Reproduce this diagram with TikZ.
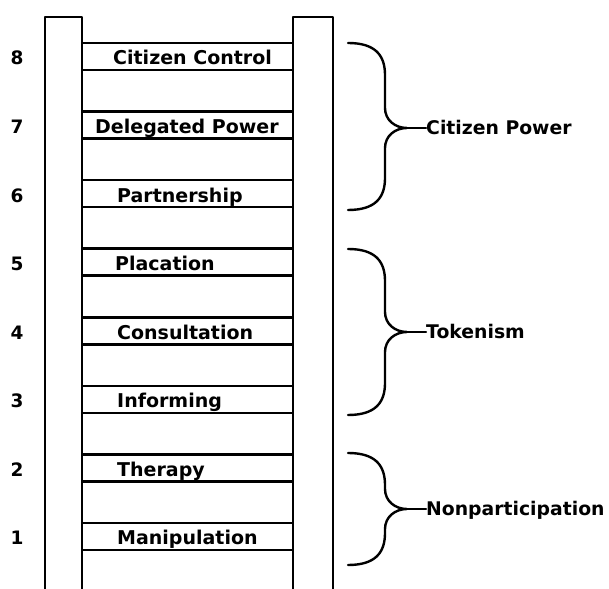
\documentclass[tikz,border=0pt]{standalone}
\usepackage{fontspec}
\setmainfont{DejaVu Sans}
\tikzstyle{rail}=[line width=2.8pt,line join=round]
\tikzstyle{rung}=[line width=2.6pt]
\tikzstyle{rungtext}=[anchor=base west,inner sep=0pt,font=\fontsize{19}{22}\selectfont\bfseries]
\tikzstyle{ranknum}=[anchor=base,inner sep=0pt,font=\fontsize{18.5}{22}\selectfont\bfseries]
\tikzstyle{groupbrace}=[line width=2.4pt,line cap=round]
\tikzstyle{grouptext}=[anchor=west,inner sep=0pt,text height=13pt,text depth=0pt,font=\fontsize{18.8}{22}\selectfont\bfseries]

\begin{document}
\begin{tikzpicture}[x=1pt,y=1pt]
\useasboundingbox (0,0) rectangle (609,588);
% rails
\draw[rail] (45,-5) -- (45,571) -- (82,571) -- (82,-5);
\draw[rail] (293,-5) -- (293,571) -- (333,571) -- (333,-5);
% rungs with names and numbers
\foreach \n/\x/\txt in {8/113/Citizen Control,7/95/Delegated Power,6/117/Partnership,
    5/115/Placation,4/117/Consultation,3/117/Informing,2/117/Therapy,1/117/Manipulation}{
  \pgfmathsetmacro{\yt}{545-68.57*(8-\n)}
  \draw[rung] (82,\yt) -- (293,\yt);
  \draw[rung] (82,{\yt-27}) -- (293,{\yt-27});
  \node[rungtext] (r\n) at (\x,{\yt-22}) {\txt};
  \node[ranknum] (n\n) at (17,{\yt-22}) {\n};
}
% braces
\foreach \yt/\yb/\ym/\nm/\txt in {545/378/460/cp/Citizen Power,339/173/256/tk/Tokenism,
    135/23/79/np/Nonparticipation}{
  \node[grouptext] (\nm) at (426,\ym) {\txt};
  \draw[groupbrace] (348,\yt) .. controls (375,\yt) and (385,{\yt-12}) .. (385,{\yt-32})
    -- (385,{\ym+20}) .. controls (385,{\ym+8}) and (395,\ym) .. (407,\ym)
    .. controls (395,\ym) and (385,{\ym-8}) .. (385,{\ym-20})
    -- (385,{\yb+32}) .. controls (385,{\yb+12}) and (375,\yb) .. (348,\yb);
  \draw[groupbrace] (407,\ym) -- (\nm.west);
}
\end{tikzpicture}
\end{document}
